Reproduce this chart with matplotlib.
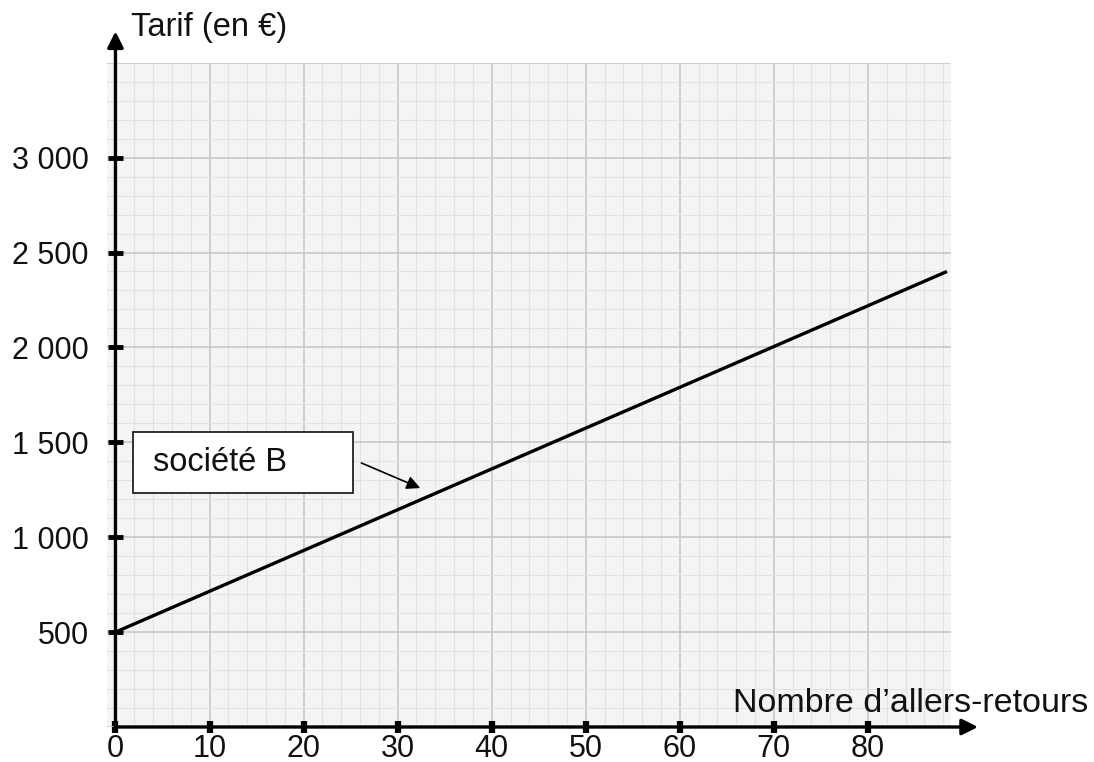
import matplotlib
matplotlib.use("Agg")
import matplotlib.pyplot as plt
from matplotlib.ticker import MultipleLocator, FixedLocator, FixedFormatter
from matplotlib.patches import Rectangle

plt.rcParams['font.family'] = ['Liberation Sans', 'DejaVu Sans']

# ---- data ----
line_x = [0, 88.4]
line_y = [500, 2400]
x_ticks = [0, 10, 20, 30, 40, 50, 60, 70, 80]
x_tick_labels = ['0', '10', '20', '30', '40', '50', '60', '70', '80']
y_ticks = [0, 500, 1000, 1500, 2000, 2500, 3000, 3500]
y_tick_labels = ['', '500', '1 000', '1 500', '2 000', '2 500', '3 000', '']
x_title = 'Nombre d\u2019allers-retours'
y_title = 'Tarif (en \u20ac)'
series_label = 'soci\u00e9t\u00e9 B'

W, H = 1094, 762
fig = plt.figure(figsize=(W / 100, H / 100), dpi=100)
ax = fig.add_axes([107 / W, 35 / H, 843.7 / W, 664.3 / H])
ax.set_xlim(-0.9, 88.8)
ax.set_ylim(0, 3500)
ax.set_facecolor('#f4f4f4')

# grid
ax.xaxis.set_major_locator(FixedLocator(x_ticks))
ax.xaxis.set_major_formatter(FixedFormatter(x_tick_labels))
ax.yaxis.set_major_locator(FixedLocator(y_ticks))
ax.yaxis.set_major_formatter(FixedFormatter(y_tick_labels))
ax.xaxis.set_minor_locator(MultipleLocator(2))
ax.yaxis.set_minor_locator(MultipleLocator(100))
ax.grid(which='minor', color='#e2e2e2', lw=0.8)
ax.grid(which='major', color='#c8c8c8', lw=1.2)
ax.set_axisbelow(True)

for s in ['top', 'right']:
    ax.spines[s].set_visible(False)
ax.spines['left'].set_position(('data', 0))
ax.spines['bottom'].set_position(('data', 0))
ax.spines['left'].set_color('none')
ax.spines['bottom'].set_color('none')

ax.tick_params(which='minor', length=0)
ax.tick_params(axis='x', which='major', direction='inout', length=8.6, width=4.5,
               color='black', pad=0.8, labelsize=22, labelcolor='#111111')
ax.tick_params(axis='y', which='major', direction='inout', length=10.8, width=3.5,
               color='black', pad=14, labelsize=22, labelcolor='#111111')

# axes arrows
ax.annotate('', xy=(0, 3665), xytext=(0, 0), annotation_clip=False,
            arrowprops=dict(arrowstyle='-|>', lw=2.4, color='black',
                            mutation_scale=24, shrinkA=0, shrinkB=0))
ax.annotate('', xy=(91.7, 0), xytext=(0, 0), annotation_clip=False,
            arrowprops=dict(arrowstyle='-|>', lw=2.4, color='black',
                            mutation_scale=24, shrinkA=0, shrinkB=0))

# data line
ax.plot(line_x, line_y, color='black', lw=2.4, solid_capstyle='butt', clip_on=False)

# hide tick marks at 0 and 3500 on y axis
for t, v in zip(ax.yaxis.get_major_ticks(), y_ticks):
    if v in (0, 3500):
        t.tick1line.set_visible(False)

# axis titles
ax.text(1.6, 3641, y_title, fontsize=23.5, color='#111111', ha='left', va='baseline')
ax.text(65.7, 79, x_title, fontsize=24.5, color='#111111', ha='left', va='baseline')

# label box and arrow
ax.add_patch(Rectangle((1.91, 1233), 23.3, 321, facecolor='white',
                       edgecolor='#222222', lw=1.3, zorder=4))
ax.text(4.04, 1391, series_label, fontsize=23.5, color='#111111', ha='left',
        va='center', zorder=5)
ax.annotate('', xy=(32.4, 1259), xytext=(26.15, 1391),
            arrowprops=dict(arrowstyle='-|>', lw=1.2, color='black',
                            mutation_scale=20, shrinkA=0, shrinkB=0))

fig.savefig('out.png', dpi=100, facecolor='white')
